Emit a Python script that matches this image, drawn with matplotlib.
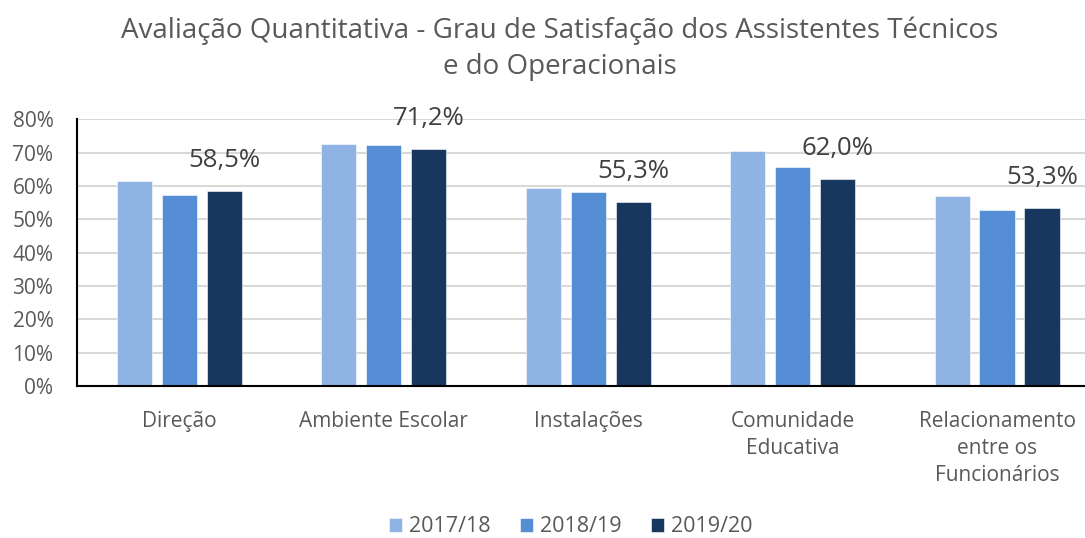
import numpy as np
import matplotlib
matplotlib.use("Agg")
import matplotlib.pyplot as plt
from matplotlib.ticker import PercentFormatter

# data
categories = ["Direção", "Ambiente Escolar", "Instalações",
              "Comunidade\nEducativa", "Relacionamento\nentre os\nFuncionários"]
years = ["2017/18", "2018/19", "2019/20"]
v_2017 = [61.6, 72.5, 59.5, 70.6, 57.1]
v_2018 = [57.2, 72.3, 58.2, 65.8, 52.8]
v_2019 = [58.5, 71.2, 55.3, 62.0, 53.3]
colors = ["#8FB4E3", "#558ED5", "#17375E"]

plt.rcParams["font.family"] = ["Open Sans", "DejaVu Sans"]
text_color = "#595959"

fig = plt.figure(figsize=(10.85, 5.38), dpi=100)
ax = fig.add_axes([77 / 1085, 1 - 386 / 538, 1 - 77 / 1085, (386 - 119.3) / 538])

x = np.arange(len(categories))
width = 0.172
offset = 0.22
series = [v_2017, v_2018, v_2019]
for i, (vals, col, lab) in enumerate(zip(series, colors, years)):
    bars = ax.bar(x + (i - 1) * offset, vals, width, color=col, label=lab,
                  edgecolor="white", linewidth=0.4, zorder=3)
    if i == 2:
        for b, v in zip(bars, vals):
            ax.annotate(f"{v:.1f}%".replace(".", ","),
                        (b.get_x() + b.get_width() / 2, b.get_height()),
                        xytext=(0, 13), textcoords="offset points",
                        ha="center", va="bottom", fontsize=18.5, color="#404040")

ax.set_ylim(0, 80)
ax.set_xlim(-0.5, 4.43)
ax.set_yticks(np.arange(0, 81, 10))
ax.yaxis.set_major_formatter(PercentFormatter(decimals=0))
ax.set_xticks(x)
ax.set_xticklabels(categories, linespacing=1.38)
ax.tick_params(axis="both", length=0, colors=text_color, labelsize=15)
ax.tick_params(axis="x", pad=18)
ax.tick_params(axis="y", pad=17)
ax.grid(axis="y", color="#D9D9D9", linewidth=1.5, zorder=0)
for s in ["top", "right"]:
    ax.spines[s].set_visible(False)
for s in ["left", "bottom"]:
    ax.spines[s].set_color("black")
    ax.spines[s].set_linewidth(1.5)
    ax.spines[s].set_zorder(4)

fig.text(0.516, 1 - 49 / 538, "Avaliação Quantitativa - Grau de Satisfação dos Assistentes Técnicos\ne do Operacionais",
         ha="center", va="center", fontsize=20, color=text_color, linespacing=1.37)

fig.legend(loc="center", bbox_to_anchor=(0.526, 1 - 527 / 538), ncol=3, frameon=False,
           fontsize=15.5, labelcolor=text_color, handlelength=0.6, handleheight=0.6,
           handletextpad=0.3, columnspacing=1.4)

fig.savefig("out.png", dpi=100)
